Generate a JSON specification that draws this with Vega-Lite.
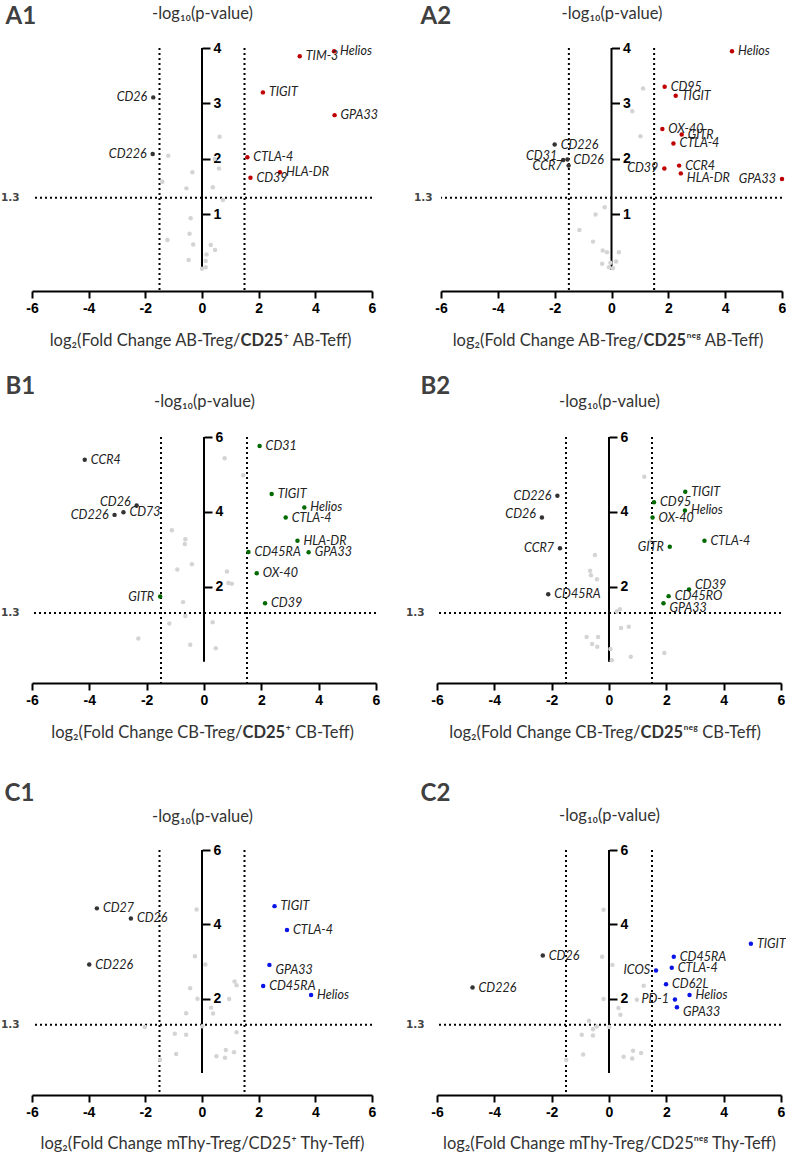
{
"$schema": "https://vega.github.io/schema/vega-lite/v6.json",
"background": "white",
"autosize": {"type": "pad"},
"padding": {"left": 0, "top": 4, "right": 0, "bottom": 0},
"config": {"view": {"stroke": null}, "font": "Lato"},
"datasets": {
"A1": [
{"m":"","fc":0.62,"p":2.40,"g":"ns","s":""},{"m":"","fc":-1.19,"p":2.06,"g":"ns","s":""},{"m":"","fc":0.45,"p":2.0,"g":"ns","s":""},{"m":"","fc":0.6,"p":1.83,"g":"ns","s":""},{"m":"","fc":-0.34,"p":1.76,"g":"ns","s":""},{"m":"","fc":-1.4,"p":1.59,"g":"ns","s":""},{"m":"","fc":-0.55,"p":1.47,"g":"ns","s":""},{"m":"","fc":0.38,"p":1.49,"g":"ns","s":""},{"m":"","fc":0.74,"p":1.26,"g":"ns","s":""},{"m":"","fc":-0.4,"p":0.93,"g":"ns","s":""},{"m":"","fc":-0.44,"p":0.65,"g":"ns","s":""},{"m":"","fc":-1.22,"p":0.54,"g":"ns","s":""},{"m":"","fc":-0.31,"p":0.46,"g":"ns","s":""},{"m":"","fc":0.31,"p":0.45,"g":"ns","s":""},{"m":"","fc":0.46,"p":0.36,"g":"ns","s":""},{"m":"","fc":0.16,"p":0.28,"g":"ns","s":""},{"m":"","fc":-0.47,"p":0.18,"g":"ns","s":""},{"m":"","fc":0.13,"p":0.16,"g":"ns","s":""},{"m":"","fc":0.0,"p":0.02,"g":"ns","s":""},{"m":"","fc":0.13,"p":0.05,"g":"ns","s":""},
{"m":"CD26","fc":-1.72,"p":3.11,"g":"down","s":"l"},{"m":"CD226","fc":-1.74,"p":2.09,"g":"down","s":"l"},
{"m":"Helios","fc":4.66,"p":3.94,"g":"up","s":"r"},{"m":"TIM-3","fc":3.45,"p":3.85,"g":"up","s":"r"},{"m":"TIGIT","fc":2.15,"p":3.2,"g":"up","s":"r"},{"m":"GPA33","fc":4.68,"p":2.79,"g":"up","s":"r"},{"m":"CTLA-4","fc":1.6,"p":2.03,"g":"up","s":"r"},{"m":"HLA-DR","fc":2.75,"p":1.76,"g":"up","s":"r"},{"m":"CD39","fc":1.71,"p":1.66,"g":"up","s":"r"}
],
"A2": [
{"m":"","fc":1.11,"p":3.27,"g":"ns","s":""},{"m":"","fc":0.73,"p":2.86,"g":"ns","s":""},{"m":"","fc":1.02,"p":2.41,"g":"ns","s":""},{"m":"","fc":-0.24,"p":1.13,"g":"ns","s":""},{"m":"","fc":-0.56,"p":1.0,"g":"ns","s":""},{"m":"","fc":-1.13,"p":0.72,"g":"ns","s":""},{"m":"","fc":-0.65,"p":0.51,"g":"ns","s":""},{"m":"","fc":-0.31,"p":0.35,"g":"ns","s":""},{"m":"","fc":-0.16,"p":0.32,"g":"ns","s":""},{"m":"","fc":0.26,"p":0.32,"g":"ns","s":""},{"m":"","fc":-0.33,"p":0.11,"g":"ns","s":""},{"m":"","fc":-0.04,"p":0.13,"g":"ns","s":""},{"m":"","fc":0.16,"p":0.15,"g":"ns","s":""},{"m":"","fc":-0.09,"p":0.05,"g":"ns","s":""},{"m":"","fc":0.05,"p":0.03,"g":"ns","s":""},
{"m":"CD226","fc":-2.0,"p":2.26,"g":"down","s":"r"},{"m":"CD31","fc":-1.7,"p":1.98,"g":"down","s":"lu"},{"m":"CD26","fc":-1.55,"p":1.99,"g":"down","s":"r"},{"m":"CCR7","fc":-1.51,"p":1.88,"g":"down","s":"l"},
{"m":"Helios","fc":4.24,"p":3.94,"g":"up","s":"r"},{"m":"CD95","fc":1.87,"p":3.30,"g":"up","s":"r"},{"m":"TIGIT","fc":2.26,"p":3.14,"g":"up","s":"r"},{"m":"OX-40","fc":1.79,"p":2.54,"g":"up","s":"r"},{"m":"GITR","fc":2.47,"p":2.44,"g":"up","s":"r"},{"m":"CTLA-4","fc":2.18,"p":2.28,"g":"up","s":"r"},{"m":"CCR4","fc":2.38,"p":1.88,"g":"up","s":"r"},{"m":"CD39","fc":1.86,"p":1.83,"g":"up","s":"l"},{"m":"HLA-DR","fc":2.44,"p":1.74,"g":"up","s":"rd"},{"m":"GPA33","fc":6.0,"p":1.64,"g":"up","s":"l"}
],
"B1": [
{"m":"","fc":0.72,"p":5.43,"g":"ns","s":""},{"m":"","fc":1.37,"p":4.98,"g":"ns","s":""},{"m":"","fc":-1.12,"p":3.51,"g":"ns","s":""},{"m":"","fc":-0.65,"p":3.27,"g":"ns","s":""},{"m":"","fc":-0.67,"p":3.14,"g":"ns","s":""},{"m":"","fc":-0.42,"p":2.6,"g":"ns","s":""},{"m":"","fc":-0.93,"p":2.46,"g":"ns","s":""},{"m":"","fc":0.8,"p":2.41,"g":"ns","s":""},{"m":"","fc":0.85,"p":2.1,"g":"ns","s":""},{"m":"","fc":0.97,"p":2.08,"g":"ns","s":""},{"m":"","fc":-0.73,"p":1.59,"g":"ns","s":""},{"m":"","fc":-0.65,"p":1.22,"g":"ns","s":""},{"m":"","fc":-1.21,"p":1.02,"g":"ns","s":""},{"m":"","fc":0.3,"p":1.05,"g":"ns","s":""},{"m":"","fc":-2.29,"p":0.62,"g":"ns","s":""},{"m":"","fc":-0.48,"p":0.45,"g":"ns","s":""},{"m":"","fc":0.41,"p":0.36,"g":"ns","s":""},
{"m":"CCR4","fc":-4.16,"p":5.39,"g":"down","s":"r"},{"m":"CD26","fc":-2.35,"p":4.17,"g":"down","s":"lu"},{"m":"CD73","fc":-2.81,"p":3.99,"g":"down","s":"r"},{"m":"CD226","fc":-3.12,"p":3.92,"g":"down","s":"l"},
{"m":"CD31","fc":1.94,"p":5.76,"g":"up","s":"r"},{"m":"TIGIT","fc":2.36,"p":4.48,"g":"up","s":"r"},{"m":"Helios","fc":3.5,"p":4.12,"g":"up","s":"r"},{"m":"CTLA-4","fc":2.85,"p":3.85,"g":"up","s":"r"},{"m":"HLA-DR","fc":3.26,"p":3.23,"g":"up","s":"r"},{"m":"CD45RA","fc":1.55,"p":2.93,"g":"up","s":"r"},{"m":"GPA33","fc":3.65,"p":2.92,"g":"up","s":"r"},{"m":"OX-40","fc":1.84,"p":2.36,"g":"up","s":"r"},{"m":"CD39","fc":2.13,"p":1.56,"g":"up","s":"r"},{"m":"GITR","fc":-1.53,"p":1.74,"g":"up","s":"l"}
],
"B2": [
{"m":"","fc":1.23,"p":4.94,"g":"ns","s":""},{"m":"","fc":1.44,"p":3.22,"g":"ns","s":""},{"m":"","fc":-0.49,"p":2.85,"g":"ns","s":""},{"m":"","fc":-0.66,"p":2.43,"g":"ns","s":""},{"m":"","fc":-0.63,"p":2.31,"g":"ns","s":""},{"m":"","fc":-0.42,"p":2.2,"g":"ns","s":""},{"m":"","fc":0.38,"p":1.4,"g":"ns","s":""},{"m":"","fc":0.27,"p":1.34,"g":"ns","s":""},{"m":"","fc":0.69,"p":0.93,"g":"ns","s":""},{"m":"","fc":0.42,"p":0.9,"g":"ns","s":""},{"m":"","fc":-0.78,"p":0.66,"g":"ns","s":""},{"m":"","fc":-0.38,"p":0.66,"g":"ns","s":""},{"m":"","fc":-0.59,"p":0.47,"g":"ns","s":""},{"m":"","fc":-0.41,"p":0.4,"g":"ns","s":""},{"m":"","fc":0.05,"p":0.34,"g":"ns","s":""},{"m":"","fc":0.1,"p":0.04,"g":"ns","s":""},{"m":"","fc":0.76,"p":0.13,"g":"ns","s":""},{"m":"","fc":1.93,"p":0.23,"g":"ns","s":""},
{"m":"CD226","fc":-1.8,"p":4.43,"g":"down","s":"l"},{"m":"CD26","fc":-2.34,"p":3.85,"g":"down","s":"lu"},{"m":"CCR7","fc":-1.71,"p":3.03,"g":"down","s":"l"},{"m":"CD45RA","fc":-2.12,"p":1.8,"g":"down","s":"r"},
{"m":"TIGIT","fc":2.66,"p":4.54,"g":"up","s":"r"},{"m":"CD95","fc":1.57,"p":4.26,"g":"up","s":"r"},{"m":"Helios","fc":2.65,"p":4.04,"g":"up","s":"r"},{"m":"OX-40","fc":1.52,"p":3.85,"g":"up","s":"r"},{"m":"CTLA-4","fc":3.33,"p":3.23,"g":"up","s":"r"},{"m":"GITR","fc":2.12,"p":3.07,"g":"up","s":"l"},{"m":"CD39","fc":2.79,"p":1.93,"g":"up","s":"ru"},{"m":"CD45RO","fc":2.08,"p":1.75,"g":"up","s":"r"},{"m":"GPA33","fc":1.9,"p":1.56,"g":"up","s":"rd"}
],
"C1": [
{"m":"","fc":-0.19,"p":4.4,"g":"ns","s":""},{"m":"","fc":-0.25,"p":3.14,"g":"ns","s":""},{"m":"","fc":0.12,"p":2.92,"g":"ns","s":""},{"m":"","fc":1.15,"p":2.46,"g":"ns","s":""},{"m":"","fc":1.22,"p":2.36,"g":"ns","s":""},{"m":"","fc":-0.42,"p":2.28,"g":"ns","s":""},{"m":"","fc":-0.16,"p":2.0,"g":"ns","s":""},{"m":"","fc":0.96,"p":1.99,"g":"ns","s":""},{"m":"","fc":0.32,"p":1.76,"g":"ns","s":""},{"m":"","fc":0.39,"p":1.6,"g":"ns","s":""},{"m":"","fc":-0.56,"p":1.61,"g":"ns","s":""},{"m":"","fc":0.01,"p":1.26,"g":"ns","s":""},{"m":"","fc":-2.02,"p":1.24,"g":"ns","s":""},{"m":"","fc":1.22,"p":1.1,"g":"ns","s":""},{"m":"","fc":-0.96,"p":1.06,"g":"ns","s":""},{"m":"","fc":-0.56,"p":1.03,"g":"ns","s":""},{"m":"","fc":-0.91,"p":0.51,"g":"ns","s":""},{"m":"","fc":0.84,"p":0.62,"g":"ns","s":""},{"m":"","fc":1.13,"p":0.56,"g":"ns","s":""},{"m":"","fc":0.51,"p":0.45,"g":"ns","s":""},{"m":"","fc":0.81,"p":0.41,"g":"ns","s":""},{"m":"","fc":-1.48,"p":0.36,"g":"ns","s":""},
{"m":"CD27","fc":-3.71,"p":4.43,"g":"down","s":"r"},{"m":"CD26","fc":-2.51,"p":4.16,"g":"down","s":"r"},{"m":"CD226","fc":-3.98,"p":2.92,"g":"down","s":"r"},
{"m":"TIGIT","fc":2.56,"p":4.49,"g":"up","s":"r"},{"m":"CTLA-4","fc":3.0,"p":3.85,"g":"up","s":"r"},{"m":"GPA33","fc":2.38,"p":2.91,"g":"up","s":"rd"},{"m":"CD45RA","fc":2.16,"p":2.34,"g":"up","s":"r"},{"m":"Helios","fc":3.85,"p":2.1,"g":"up","s":"r"}
],
"C2": [
{"m":"","fc":-0.19,"p":4.39,"g":"ns","s":""},{"m":"","fc":-0.24,"p":3.13,"g":"ns","s":""},{"m":"","fc":0.12,"p":2.91,"g":"ns","s":""},{"m":"","fc":1.21,"p":2.35,"g":"ns","s":""},{"m":"","fc":-0.19,"p":1.99,"g":"ns","s":""},{"m":"","fc":0.97,"p":1.97,"g":"ns","s":""},{"m":"","fc":0.33,"p":1.75,"g":"ns","s":""},{"m":"","fc":0.4,"p":1.57,"g":"ns","s":""},{"m":"","fc":-0.7,"p":1.41,"g":"ns","s":""},{"m":"","fc":-0.43,"p":1.25,"g":"ns","s":""},{"m":"","fc":-0.56,"p":1.18,"g":"ns","s":""},{"m":"","fc":0.01,"p":1.24,"g":"ns","s":""},{"m":"","fc":-0.95,"p":1.03,"g":"ns","s":""},{"m":"","fc":-0.56,"p":1.01,"g":"ns","s":""},{"m":"","fc":-0.9,"p":0.5,"g":"ns","s":""},{"m":"","fc":0.84,"p":0.6,"g":"ns","s":""},{"m":"","fc":1.12,"p":0.54,"g":"ns","s":""},{"m":"","fc":0.51,"p":0.44,"g":"ns","s":""},{"m":"","fc":0.81,"p":0.39,"g":"ns","s":""},{"m":"","fc":-1.49,"p":0.35,"g":"ns","s":""},
{"m":"CD26","fc":-2.31,"p":3.16,"g":"down","s":"r"},{"m":"CD226","fc":-4.76,"p":2.3,"g":"down","s":"r"},
{"m":"TIGIT","fc":4.95,"p":3.48,"g":"up","s":"r"},{"m":"CD45RA","fc":2.26,"p":3.13,"g":"up","s":"r"},{"m":"CTLA-4","fc":2.19,"p":2.83,"g":"up","s":"r"},{"m":"ICOS","fc":1.64,"p":2.76,"g":"up","s":"l"},{"m":"CD62L","fc":1.99,"p":2.39,"g":"up","s":"r"},{"m":"Helios","fc":2.81,"p":2.1,"g":"up","s":"r"},{"m":"PD-1","fc":2.3,"p":1.98,"g":"up","s":"l"},{"m":"GPA33","fc":2.37,"p":1.77,"g":"up","s":"rd"}
]
},
"vconcat": [
{"vconcat": [
{"hconcat": [
{"width": 340, "height": 243, "data": {"name": "A1"}, "resolve": {"axis": {"x": "independent", "y": "independent"}},
 "layer": [
  {"data": {"values": [{"t": 1.3}]}, "mark": {"type": "rule", "strokeDash": [2, 3], "strokeWidth": 2, "color": "#000"},
   "encoding": {"y": {"field": "t", "type": "quantitative", "scale": {"domain": [-0.38, 4], "nice": false, "zero": false},
     "axis": {"orient": "left", "values": [1.3], "format": ".1f", "domain": false, "ticks": false, "grid": false, "labelPadding": 13, "labelFont": "DejaVu Sans", "labelFontWeight": "bold", "labelFontSize": 10.5, "labelColor": "#444", "title": "A1", "titleAngle": 0, "titleX": -27, "titleY": -25, "titleAlign": "left", "titleBaseline": "alphabetic", "titleFont": "Lato", "titleFontSize": 24, "titleFontWeight": "bold", "titleColor": "#404040"}}}},
  {"data": {"values": [{"t": -1.5}, {"t": 1.5}]}, "mark": {"type": "rule", "strokeDash": [2, 3], "strokeWidth": 2, "color": "#000"},
   "encoding": {"x": {"field": "t", "type": "quantitative", "scale": {"domain": [-6, 6], "nice": false, "zero": false},
     "axis": {"orient": "bottom", "domain": false, "ticks": false, "labels": false, "grid": false, "title": "CD25", "titleFont": "Lato", "titleFontSize": 16.5, "titleFontWeight": "bold", "titleColor": "#333", "titleX": 208, "titleY": 54, "titleAlign": "left", "titleBaseline": "alphabetic"}}}},
  {"data": {"values": [{"x0": 0, "a": 0, "b": 4}]}, "mark": {"type": "rule", "strokeWidth": 2, "color": "#000"},
   "encoding": {"x": {"field": "x0", "type": "quantitative", "scale": {"domain": [-6, 6], "nice": false, "zero": false},
     "axis": {"orient": "bottom", "domain": false, "ticks": false, "labels": false, "grid": false, "title": "⁺ AB-Teff)", "titleFont": "Lato", "titleFontSize": 16.5, "titleFontWeight": "normal", "titleColor": "#333", "titleX": 251, "titleY": 54, "titleAlign": "left", "titleBaseline": "alphabetic"}},
    "y": {"field": "a", "type": "quantitative", "scale": {"domain": [-0.38, 4], "nice": false, "zero": false}, "axis": null}, "y2": {"field": "b"}}},
  {"mark": {"type": "circle", "size": 20, "opacity": 1},
   "encoding": {
    "x": {"field": "fc", "type": "quantitative", "scale": {"domain": [-6, 6], "nice": false, "zero": false},
     "axis": {"orient": "bottom", "values": [-6, -4, -2, 0, 2, 4, 6], "grid": false, "domainColor": "#000", "domainWidth": 2, "tickColor": "#000", "tickWidth": 2, "tickSize": 7, "labelFlush": false, "labelFont": "Liberation Sans", "labelFontWeight": "bold", "labelFontSize": 14, "labelColor": "#000", "labelPadding": 3, "labelExpr": "toString(datum.value)", "title": "log₂(Fold Change AB-Treg/", "titleFont": "Lato", "titleFontSize": 16.5, "titleFontWeight": "normal", "titleColor": "#333", "titleX": 208, "titleY": 54, "titleAlign": "right", "titleBaseline": "alphabetic"}},
    "y": {"field": "p", "type": "quantitative", "scale": {"domain": [-0.38, 4], "nice": false, "zero": false},
     "axis": {"orient": "right", "offset": -170, "values": [1, 2, 3, 4], "format": "d", "grid": false, "domain": false, "tickColor": "#000", "tickWidth": 2, "tickSize": 8, "labelFont": "Liberation Sans", "labelFontWeight": "bold", "labelFontSize": 14, "labelColor": "#000", "labelPadding": 3, "title": "-log₁₀(p-value)", "titleAngle": 0, "titleX": 0, "titleY": -30, "titleAlign": "center", "titleBaseline": "alphabetic", "titleFont": "Lato", "titleFontSize": 16.5, "titleFontWeight": "normal", "titleColor": "#333"}},
    "color": {"field": "g", "type": "nominal", "scale": {"domain": ["ns", "down", "up"], "range": ["#d4d4d4", "#333333", "#c00000"]}, "legend": null}}},
  {"transform": [{"filter": "datum.s === 'r'"}], "mark": {"type": "text", "align": "left", "baseline": "middle", "dx": 6, "dy": 0, "font": "Lato", "fontStyle": "italic", "fontSize": 12.5, "color": "#222"},
   "encoding": {"x": {"field": "fc", "type": "quantitative", "scale": {"domain": [-6, 6], "nice": false, "zero": false}, "axis": null}, "y": {"field": "p", "type": "quantitative", "scale": {"domain": [-0.38, 4], "nice": false, "zero": false}, "axis": null}, "text": {"field": "m"}}},
  {"transform": [{"filter": "datum.s === 'l'"}], "mark": {"type": "text", "align": "right", "baseline": "middle", "dx": -6, "dy": 0, "font": "Lato", "fontStyle": "italic", "fontSize": 12.5, "color": "#222"},
   "encoding": {"x": {"field": "fc", "type": "quantitative", "scale": {"domain": [-6, 6], "nice": false, "zero": false}, "axis": null}, "y": {"field": "p", "type": "quantitative", "scale": {"domain": [-0.38, 4], "nice": false, "zero": false}, "axis": null}, "text": {"field": "m"}}}
 ]},
{"width": 341, "height": 243, "data": {"name": "A2"}, "resolve": {"axis": {"x": "independent", "y": "independent"}},
 "layer": [
  {"data": {"values": [{"t": 1.3}]}, "mark": {"type": "rule", "strokeDash": [2, 3], "strokeWidth": 2, "color": "#000"},
   "encoding": {"y": {"field": "t", "type": "quantitative", "scale": {"domain": [-0.38, 4], "nice": false, "zero": false},
     "axis": {"orient": "left", "values": [1.3], "format": ".1f", "domain": false, "ticks": false, "grid": false, "labelPadding": 9, "labelFont": "DejaVu Sans", "labelFontWeight": "bold", "labelFontSize": 10.5, "labelColor": "#444", "title": "A2", "titleAngle": 0, "titleX": -21, "titleY": -25, "titleAlign": "left", "titleBaseline": "alphabetic", "titleFont": "Lato", "titleFontSize": 24, "titleFontWeight": "bold", "titleColor": "#404040"}}}},
  {"data": {"values": [{"t": -1.5}, {"t": 1.5}]}, "mark": {"type": "rule", "strokeDash": [2, 3], "strokeWidth": 2, "color": "#000"},
   "encoding": {"x": {"field": "t", "type": "quantitative", "scale": {"domain": [-6, 6], "nice": false, "zero": false},
     "axis": {"orient": "bottom", "domain": false, "ticks": false, "labels": false, "grid": false, "title": "CD25", "titleFont": "Lato", "titleFontSize": 16.5, "titleFontWeight": "bold", "titleColor": "#333", "titleX": 202, "titleY": 54, "titleAlign": "left", "titleBaseline": "alphabetic"}}}},
  {"data": {"values": [{"x0": 0, "a": 0, "b": 4}]}, "mark": {"type": "rule", "strokeWidth": 2, "color": "#000"},
   "encoding": {"x": {"field": "x0", "type": "quantitative", "scale": {"domain": [-6, 6], "nice": false, "zero": false},
     "axis": {"orient": "bottom", "domain": false, "ticks": false, "labels": false, "grid": false, "title": "ⁿᵉᵍ AB-Teff)", "titleFont": "Lato", "titleFontSize": 16.5, "titleFontWeight": "normal", "titleColor": "#333", "titleX": 245, "titleY": 54, "titleAlign": "left", "titleBaseline": "alphabetic"}},
    "y": {"field": "a", "type": "quantitative", "scale": {"domain": [-0.38, 4], "nice": false, "zero": false}, "axis": null}, "y2": {"field": "b"}}},
  {"mark": {"type": "circle", "size": 20, "opacity": 1},
   "encoding": {
    "x": {"field": "fc", "type": "quantitative", "scale": {"domain": [-6, 6], "nice": false, "zero": false},
     "axis": {"orient": "bottom", "values": [-6, -4, -2, 0, 2, 4, 6], "grid": false, "domainColor": "#000", "domainWidth": 2, "tickColor": "#000", "tickWidth": 2, "tickSize": 7, "labelFlush": false, "labelFont": "Liberation Sans", "labelFontWeight": "bold", "labelFontSize": 14, "labelColor": "#000", "labelPadding": 3, "labelExpr": "toString(datum.value)", "title": "log₂(Fold Change AB-Treg/", "titleFont": "Lato", "titleFontSize": 16.5, "titleFontWeight": "normal", "titleColor": "#333", "titleX": 202, "titleY": 54, "titleAlign": "right", "titleBaseline": "alphabetic"}},
    "y": {"field": "p", "type": "quantitative", "scale": {"domain": [-0.38, 4], "nice": false, "zero": false},
     "axis": {"orient": "right", "offset": -170.5, "values": [1, 2, 3, 4], "format": "d", "grid": false, "domain": false, "tickColor": "#000", "tickWidth": 2, "tickSize": 8, "labelFont": "Liberation Sans", "labelFontWeight": "bold", "labelFontSize": 14, "labelColor": "#000", "labelPadding": 3, "title": "-log₁₀(p-value)", "titleAngle": 0, "titleX": 0, "titleY": -30, "titleAlign": "center", "titleBaseline": "alphabetic", "titleFont": "Lato", "titleFontSize": 16.5, "titleFontWeight": "normal", "titleColor": "#333"}},
    "color": {"field": "g", "type": "nominal", "scale": {"domain": ["ns", "down", "up"], "range": ["#d4d4d4", "#333333", "#c00000"]}, "legend": null}}},
  {"transform": [{"filter": "datum.s === 'r'"}], "mark": {"type": "text", "align": "left", "baseline": "middle", "dx": 6, "dy": 0, "font": "Lato", "fontStyle": "italic", "fontSize": 12.5, "color": "#222"},
   "encoding": {"x": {"field": "fc", "type": "quantitative", "scale": {"domain": [-6, 6], "nice": false, "zero": false}, "axis": null}, "y": {"field": "p", "type": "quantitative", "scale": {"domain": [-0.38, 4], "nice": false, "zero": false}, "axis": null}, "text": {"field": "m"}}},
  {"transform": [{"filter": "datum.s === 'rd'"}], "mark": {"type": "text", "align": "left", "baseline": "middle", "dx": 6, "dy": 5, "font": "Lato", "fontStyle": "italic", "fontSize": 12.5, "color": "#222"},
   "encoding": {"x": {"field": "fc", "type": "quantitative", "scale": {"domain": [-6, 6], "nice": false, "zero": false}, "axis": null}, "y": {"field": "p", "type": "quantitative", "scale": {"domain": [-0.38, 4], "nice": false, "zero": false}, "axis": null}, "text": {"field": "m"}}},
  {"transform": [{"filter": "datum.s === 'l'"}], "mark": {"type": "text", "align": "right", "baseline": "middle", "dx": -6, "dy": 0, "font": "Lato", "fontStyle": "italic", "fontSize": 12.5, "color": "#222"},
   "encoding": {"x": {"field": "fc", "type": "quantitative", "scale": {"domain": [-6, 6], "nice": false, "zero": false}, "axis": null}, "y": {"field": "p", "type": "quantitative", "scale": {"domain": [-0.38, 4], "nice": false, "zero": false}, "axis": null}, "text": {"field": "m"}}},
  {"transform": [{"filter": "datum.s === 'lu'"}], "mark": {"type": "text", "align": "right", "baseline": "middle", "dx": -6, "dy": -4, "font": "Lato", "fontStyle": "italic", "fontSize": 12.5, "color": "#222"},
   "encoding": {"x": {"field": "fc", "type": "quantitative", "scale": {"domain": [-6, 6], "nice": false, "zero": false}, "axis": null}, "y": {"field": "p", "type": "quantitative", "scale": {"domain": [-0.38, 4], "nice": false, "zero": false}, "axis": null}, "text": {"field": "m"}}}
 ]}
], "spacing": 69, "bounds": "flush", "resolve": {"scale": {"color": "independent"}}},
{"hconcat": [
{"width": 344, "height": 246, "data": {"name": "B1"}, "resolve": {"axis": {"x": "independent", "y": "independent"}},
 "layer": [
  {"data": {"values": [{"t": 1.3}]}, "mark": {"type": "rule", "strokeDash": [2, 3], "strokeWidth": 2, "color": "#000"},
   "encoding": {"y": {"field": "t", "type": "quantitative", "scale": {"domain": [-0.57, 6], "nice": false, "zero": false},
     "axis": {"orient": "left", "values": [1.3], "format": ".1f", "domain": false, "ticks": false, "grid": false, "labelPadding": 13, "labelFont": "DejaVu Sans", "labelFontWeight": "bold", "labelFontSize": 10.5, "labelColor": "#444", "title": "B1", "titleAngle": 0, "titleX": -27, "titleY": -44, "titleAlign": "left", "titleBaseline": "alphabetic", "titleFont": "Lato", "titleFontSize": 24, "titleFontWeight": "bold", "titleColor": "#404040"}}}},
  {"data": {"values": [{"t": -1.5}, {"t": 1.5}]}, "mark": {"type": "rule", "strokeDash": [2, 3], "strokeWidth": 2, "color": "#000"},
   "encoding": {"x": {"field": "t", "type": "quantitative", "scale": {"domain": [-6, 6], "nice": false, "zero": false},
     "axis": {"orient": "bottom", "domain": false, "ticks": false, "labels": false, "grid": false, "title": "CD25", "titleFont": "Lato", "titleFontSize": 16.5, "titleFontWeight": "bold", "titleColor": "#333", "titleX": 210, "titleY": 54, "titleAlign": "left", "titleBaseline": "alphabetic"}}}},
  {"data": {"values": [{"x0": 0, "a": 0, "b": 6}]}, "mark": {"type": "rule", "strokeWidth": 2, "color": "#000"},
   "encoding": {"x": {"field": "x0", "type": "quantitative", "scale": {"domain": [-6, 6], "nice": false, "zero": false},
     "axis": {"orient": "bottom", "domain": false, "ticks": false, "labels": false, "grid": false, "title": "⁺ CB-Teff)", "titleFont": "Lato", "titleFontSize": 16.5, "titleFontWeight": "normal", "titleColor": "#333", "titleX": 253, "titleY": 54, "titleAlign": "left", "titleBaseline": "alphabetic"}},
    "y": {"field": "a", "type": "quantitative", "scale": {"domain": [-0.57, 6], "nice": false, "zero": false}, "axis": null}, "y2": {"field": "b"}}},
  {"mark": {"type": "circle", "size": 20, "opacity": 1},
   "encoding": {
    "x": {"field": "fc", "type": "quantitative", "scale": {"domain": [-6, 6], "nice": false, "zero": false},
     "axis": {"orient": "bottom", "values": [-6, -4, -2, 0, 2, 4, 6], "grid": false, "domainColor": "#000", "domainWidth": 2, "tickColor": "#000", "tickWidth": 2, "tickSize": 7, "labelFlush": false, "labelFont": "Liberation Sans", "labelFontWeight": "bold", "labelFontSize": 14, "labelColor": "#000", "labelPadding": 3, "labelExpr": "toString(datum.value)", "title": "log₂(Fold Change CB-Treg/", "titleFont": "Lato", "titleFontSize": 16.5, "titleFontWeight": "normal", "titleColor": "#333", "titleX": 210, "titleY": 54, "titleAlign": "right", "titleBaseline": "alphabetic"}},
    "y": {"field": "p", "type": "quantitative", "scale": {"domain": [-0.57, 6], "nice": false, "zero": false},
     "axis": {"orient": "right", "offset": -172, "values": [2, 4, 6], "format": "d", "grid": false, "domain": false, "tickColor": "#000", "tickWidth": 2, "tickSize": 8, "labelFont": "Liberation Sans", "labelFontWeight": "bold", "labelFontSize": 14, "labelColor": "#000", "labelPadding": 3, "title": "-log₁₀(p-value)", "titleAngle": 0, "titleX": 0, "titleY": -31, "titleAlign": "center", "titleBaseline": "alphabetic", "titleFont": "Lato", "titleFontSize": 16.5, "titleFontWeight": "normal", "titleColor": "#333"}},
    "color": {"field": "g", "type": "nominal", "scale": {"domain": ["ns", "down", "up"], "range": ["#d4d4d4", "#333333", "#006a00"]}, "legend": null}}},
  {"transform": [{"filter": "datum.s === 'r'"}], "mark": {"type": "text", "align": "left", "baseline": "middle", "dx": 6, "dy": 0, "font": "Lato", "fontStyle": "italic", "fontSize": 12.5, "color": "#222"},
   "encoding": {"x": {"field": "fc", "type": "quantitative", "scale": {"domain": [-6, 6], "nice": false, "zero": false}, "axis": null}, "y": {"field": "p", "type": "quantitative", "scale": {"domain": [-0.57, 6], "nice": false, "zero": false}, "axis": null}, "text": {"field": "m"}}},
  {"transform": [{"filter": "datum.s === 'l'"}], "mark": {"type": "text", "align": "right", "baseline": "middle", "dx": -6, "dy": 0, "font": "Lato", "fontStyle": "italic", "fontSize": 12.5, "color": "#222"},
   "encoding": {"x": {"field": "fc", "type": "quantitative", "scale": {"domain": [-6, 6], "nice": false, "zero": false}, "axis": null}, "y": {"field": "p", "type": "quantitative", "scale": {"domain": [-0.57, 6], "nice": false, "zero": false}, "axis": null}, "text": {"field": "m"}}},
  {"transform": [{"filter": "datum.s === 'lu'"}], "mark": {"type": "text", "align": "right", "baseline": "middle", "dx": -6, "dy": -4, "font": "Lato", "fontStyle": "italic", "fontSize": 12.5, "color": "#222"},
   "encoding": {"x": {"field": "fc", "type": "quantitative", "scale": {"domain": [-6, 6], "nice": false, "zero": false}, "axis": null}, "y": {"field": "p", "type": "quantitative", "scale": {"domain": [-0.57, 6], "nice": false, "zero": false}, "axis": null}, "text": {"field": "m"}}}
 ]},
{"width": 344, "height": 246, "data": {"name": "B2"}, "resolve": {"axis": {"x": "independent", "y": "independent"}},
 "layer": [
  {"data": {"values": [{"t": 1.3}]}, "mark": {"type": "rule", "strokeDash": [2, 3], "strokeWidth": 2, "color": "#000"},
   "encoding": {"y": {"field": "t", "type": "quantitative", "scale": {"domain": [-0.57, 6], "nice": false, "zero": false},
     "axis": {"orient": "left", "values": [1.3], "format": ".1f", "domain": false, "ticks": false, "grid": false, "labelPadding": 13, "labelFont": "DejaVu Sans", "labelFontWeight": "bold", "labelFontSize": 10.5, "labelColor": "#444", "title": "B2", "titleAngle": 0, "titleX": -17, "titleY": -44, "titleAlign": "left", "titleBaseline": "alphabetic", "titleFont": "Lato", "titleFontSize": 24, "titleFontWeight": "bold", "titleColor": "#404040"}}}},
  {"data": {"values": [{"t": -1.5}, {"t": 1.5}]}, "mark": {"type": "rule", "strokeDash": [2, 3], "strokeWidth": 2, "color": "#000"},
   "encoding": {"x": {"field": "t", "type": "quantitative", "scale": {"domain": [-6, 6], "nice": false, "zero": false},
     "axis": {"orient": "bottom", "domain": false, "ticks": false, "labels": false, "grid": false, "title": "CD25", "titleFont": "Lato", "titleFontSize": 16.5, "titleFontWeight": "bold", "titleColor": "#333", "titleX": 203, "titleY": 54, "titleAlign": "left", "titleBaseline": "alphabetic"}}}},
  {"data": {"values": [{"x0": 0, "a": 0, "b": 6}]}, "mark": {"type": "rule", "strokeWidth": 2, "color": "#000"},
   "encoding": {"x": {"field": "x0", "type": "quantitative", "scale": {"domain": [-6, 6], "nice": false, "zero": false},
     "axis": {"orient": "bottom", "domain": false, "ticks": false, "labels": false, "grid": false, "title": "ⁿᵉᵍ CB-Teff)", "titleFont": "Lato", "titleFontSize": 16.5, "titleFontWeight": "normal", "titleColor": "#333", "titleX": 246, "titleY": 54, "titleAlign": "left", "titleBaseline": "alphabetic"}},
    "y": {"field": "a", "type": "quantitative", "scale": {"domain": [-0.57, 6], "nice": false, "zero": false}, "axis": null}, "y2": {"field": "b"}}},
  {"mark": {"type": "circle", "size": 20, "opacity": 1},
   "encoding": {
    "x": {"field": "fc", "type": "quantitative", "scale": {"domain": [-6, 6], "nice": false, "zero": false},
     "axis": {"orient": "bottom", "values": [-6, -4, -2, 0, 2, 4, 6], "grid": false, "domainColor": "#000", "domainWidth": 2, "tickColor": "#000", "tickWidth": 2, "tickSize": 7, "labelFlush": false, "labelFont": "Liberation Sans", "labelFontWeight": "bold", "labelFontSize": 14, "labelColor": "#000", "labelPadding": 3, "labelExpr": "toString(datum.value)", "title": "log₂(Fold Change CB-Treg/", "titleFont": "Lato", "titleFontSize": 16.5, "titleFontWeight": "normal", "titleColor": "#333", "titleX": 203, "titleY": 54, "titleAlign": "right", "titleBaseline": "alphabetic"}},
    "y": {"field": "p", "type": "quantitative", "scale": {"domain": [-0.57, 6], "nice": false, "zero": false},
     "axis": {"orient": "right", "offset": -172, "values": [2, 4, 6], "format": "d", "grid": false, "domain": false, "tickColor": "#000", "tickWidth": 2, "tickSize": 8, "labelFont": "Liberation Sans", "labelFontWeight": "bold", "labelFontSize": 14, "labelColor": "#000", "labelPadding": 3, "title": "-log₁₀(p-value)", "titleAngle": 0, "titleX": 0, "titleY": -31, "titleAlign": "center", "titleBaseline": "alphabetic", "titleFont": "Lato", "titleFontSize": 16.5, "titleFontWeight": "normal", "titleColor": "#333"}},
    "color": {"field": "g", "type": "nominal", "scale": {"domain": ["ns", "down", "up"], "range": ["#d4d4d4", "#333333", "#006a00"]}, "legend": null}}},
  {"transform": [{"filter": "datum.s === 'r'"}], "mark": {"type": "text", "align": "left", "baseline": "middle", "dx": 6, "dy": 0, "font": "Lato", "fontStyle": "italic", "fontSize": 12.5, "color": "#222"},
   "encoding": {"x": {"field": "fc", "type": "quantitative", "scale": {"domain": [-6, 6], "nice": false, "zero": false}, "axis": null}, "y": {"field": "p", "type": "quantitative", "scale": {"domain": [-0.57, 6], "nice": false, "zero": false}, "axis": null}, "text": {"field": "m"}}},
  {"transform": [{"filter": "datum.s === 'ru'"}], "mark": {"type": "text", "align": "left", "baseline": "middle", "dx": 6, "dy": -4, "font": "Lato", "fontStyle": "italic", "fontSize": 12.5, "color": "#222"},
   "encoding": {"x": {"field": "fc", "type": "quantitative", "scale": {"domain": [-6, 6], "nice": false, "zero": false}, "axis": null}, "y": {"field": "p", "type": "quantitative", "scale": {"domain": [-0.57, 6], "nice": false, "zero": false}, "axis": null}, "text": {"field": "m"}}},
  {"transform": [{"filter": "datum.s === 'rd'"}], "mark": {"type": "text", "align": "left", "baseline": "middle", "dx": 6, "dy": 5, "font": "Lato", "fontStyle": "italic", "fontSize": 12.5, "color": "#222"},
   "encoding": {"x": {"field": "fc", "type": "quantitative", "scale": {"domain": [-6, 6], "nice": false, "zero": false}, "axis": null}, "y": {"field": "p", "type": "quantitative", "scale": {"domain": [-0.57, 6], "nice": false, "zero": false}, "axis": null}, "text": {"field": "m"}}},
  {"transform": [{"filter": "datum.s === 'l'"}], "mark": {"type": "text", "align": "right", "baseline": "middle", "dx": -6, "dy": 0, "font": "Lato", "fontStyle": "italic", "fontSize": 12.5, "color": "#222"},
   "encoding": {"x": {"field": "fc", "type": "quantitative", "scale": {"domain": [-6, 6], "nice": false, "zero": false}, "axis": null}, "y": {"field": "p", "type": "quantitative", "scale": {"domain": [-0.57, 6], "nice": false, "zero": false}, "axis": null}, "text": {"field": "m"}}},
  {"transform": [{"filter": "datum.s === 'lu'"}], "mark": {"type": "text", "align": "right", "baseline": "middle", "dx": -6, "dy": -4, "font": "Lato", "fontStyle": "italic", "fontSize": 12.5, "color": "#222"},
   "encoding": {"x": {"field": "fc", "type": "quantitative", "scale": {"domain": [-6, 6], "nice": false, "zero": false}, "axis": null}, "y": {"field": "p", "type": "quantitative", "scale": {"domain": [-0.57, 6], "nice": false, "zero": false}, "axis": null}, "text": {"field": "m"}}}
 ]}
], "spacing": 61, "bounds": "flush", "resolve": {"scale": {"color": "independent"}}}
], "spacing": 25, "resolve": {"scale": {"color": "independent"}}},
{"hconcat": [
{"width": 340, "height": 245, "data": {"name": "C1"}, "resolve": {"axis": {"x": "independent", "y": "independent"}},
 "layer": [
  {"data": {"values": [{"t": 1.3}]}, "mark": {"type": "rule", "strokeDash": [2, 3], "strokeWidth": 2, "color": "#000"},
   "encoding": {"y": {"field": "t", "type": "quantitative", "scale": {"domain": [-0.59, 6], "nice": false, "zero": false},
     "axis": {"orient": "left", "values": [1.3], "format": ".1f", "domain": false, "ticks": false, "grid": false, "labelPadding": 13, "labelFont": "DejaVu Sans", "labelFontWeight": "bold", "labelFontSize": 10.5, "labelColor": "#444", "title": "C1", "titleAngle": 0, "titleX": -28, "titleY": -50, "titleAlign": "left", "titleBaseline": "alphabetic", "titleFont": "Lato", "titleFontSize": 24, "titleFontWeight": "bold", "titleColor": "#404040"}}}},
  {"data": {"values": [{"t": -1.5}, {"t": 1.5}]}, "mark": {"type": "rule", "strokeDash": [2, 3], "strokeWidth": 2, "color": "#000"},
   "encoding": {"x": {"field": "t", "type": "quantitative", "scale": {"domain": [-6, 6], "nice": false, "zero": false}, "axis": null}}},
  {"data": {"values": [{"x0": 0, "a": 0, "b": 6}]}, "mark": {"type": "rule", "strokeWidth": 2, "color": "#000"},
   "encoding": {"x": {"field": "x0", "type": "quantitative", "scale": {"domain": [-6, 6], "nice": false, "zero": false}, "axis": null}, "y": {"field": "a", "type": "quantitative", "scale": {"domain": [-0.59, 6], "nice": false, "zero": false}, "axis": null}, "y2": {"field": "b"}}},
  {"mark": {"type": "circle", "size": 20, "opacity": 1},
   "encoding": {
    "x": {"field": "fc", "type": "quantitative", "scale": {"domain": [-6, 6], "nice": false, "zero": false},
     "axis": {"orient": "bottom", "values": [-6, -4, -2, 0, 2, 4, 6], "grid": false, "domainColor": "#000", "domainWidth": 2, "tickColor": "#000", "tickWidth": 2, "tickSize": 7, "labelFlush": false, "labelFont": "Liberation Sans", "labelFontWeight": "bold", "labelFontSize": 14, "labelColor": "#000", "labelPadding": 3, "labelExpr": "toString(datum.value)", "title": "log₂(Fold Change mThy-Treg/CD25⁺ Thy-Teff)", "titleFont": "Lato", "titleFontSize": 16.5, "titleFontWeight": "normal", "titleColor": "#333", "titleX": 170, "titleY": 53, "titleAlign": "center", "titleBaseline": "alphabetic"}},
    "y": {"field": "p", "type": "quantitative", "scale": {"domain": [-0.59, 6], "nice": false, "zero": false},
     "axis": {"orient": "right", "offset": -170, "values": [2, 4, 6], "format": "d", "grid": false, "domain": false, "tickColor": "#000", "tickWidth": 2, "tickSize": 8, "labelFont": "Liberation Sans", "labelFontWeight": "bold", "labelFontSize": 14, "labelColor": "#000", "labelPadding": 3, "title": "-log₁₀(p-value)", "titleAngle": 0, "titleX": 0, "titleY": -29, "titleAlign": "center", "titleBaseline": "alphabetic", "titleFont": "Lato", "titleFontSize": 16.5, "titleFontWeight": "normal", "titleColor": "#333"}},
    "color": {"field": "g", "type": "nominal", "scale": {"domain": ["ns", "down", "up"], "range": ["#d4d4d4", "#333333", "#0a14e6"]}, "legend": null}}},
  {"transform": [{"filter": "datum.s === 'r'"}], "mark": {"type": "text", "align": "left", "baseline": "middle", "dx": 6, "dy": 0, "font": "Lato", "fontStyle": "italic", "fontSize": 12.5, "color": "#222"},
   "encoding": {"x": {"field": "fc", "type": "quantitative", "scale": {"domain": [-6, 6], "nice": false, "zero": false}, "axis": null}, "y": {"field": "p", "type": "quantitative", "scale": {"domain": [-0.59, 6], "nice": false, "zero": false}, "axis": null}, "text": {"field": "m"}}},
  {"transform": [{"filter": "datum.s === 'rd'"}], "mark": {"type": "text", "align": "left", "baseline": "middle", "dx": 6, "dy": 5, "font": "Lato", "fontStyle": "italic", "fontSize": 12.5, "color": "#222"},
   "encoding": {"x": {"field": "fc", "type": "quantitative", "scale": {"domain": [-6, 6], "nice": false, "zero": false}, "axis": null}, "y": {"field": "p", "type": "quantitative", "scale": {"domain": [-0.59, 6], "nice": false, "zero": false}, "axis": null}, "text": {"field": "m"}}}
 ]},
{"width": 344, "height": 245, "data": {"name": "C2"}, "resolve": {"axis": {"x": "independent", "y": "independent"}},
 "layer": [
  {"data": {"values": [{"t": 1.3}]}, "mark": {"type": "rule", "strokeDash": [2, 3], "strokeWidth": 2, "color": "#000"},
   "encoding": {"y": {"field": "t", "type": "quantitative", "scale": {"domain": [-0.59, 6], "nice": false, "zero": false},
     "axis": {"orient": "left", "values": [1.3], "format": ".1f", "domain": false, "ticks": false, "grid": false, "labelPadding": 13, "labelFont": "DejaVu Sans", "labelFontWeight": "bold", "labelFontSize": 10.5, "labelColor": "#444", "title": "C2", "titleAngle": 0, "titleX": -17, "titleY": -50, "titleAlign": "left", "titleBaseline": "alphabetic", "titleFont": "Lato", "titleFontSize": 24, "titleFontWeight": "bold", "titleColor": "#404040"}}}},
  {"data": {"values": [{"t": -1.5}, {"t": 1.5}]}, "mark": {"type": "rule", "strokeDash": [2, 3], "strokeWidth": 2, "color": "#000"},
   "encoding": {"x": {"field": "t", "type": "quantitative", "scale": {"domain": [-6, 6], "nice": false, "zero": false}, "axis": null}}},
  {"data": {"values": [{"x0": 0, "a": 0, "b": 6}]}, "mark": {"type": "rule", "strokeWidth": 2, "color": "#000"},
   "encoding": {"x": {"field": "x0", "type": "quantitative", "scale": {"domain": [-6, 6], "nice": false, "zero": false}, "axis": null}, "y": {"field": "a", "type": "quantitative", "scale": {"domain": [-0.59, 6], "nice": false, "zero": false}, "axis": null}, "y2": {"field": "b"}}},
  {"mark": {"type": "circle", "size": 20, "opacity": 1},
   "encoding": {
    "x": {"field": "fc", "type": "quantitative", "scale": {"domain": [-6, 6], "nice": false, "zero": false},
     "axis": {"orient": "bottom", "values": [-6, -4, -2, 0, 2, 4, 6], "grid": false, "domainColor": "#000", "domainWidth": 2, "tickColor": "#000", "tickWidth": 2, "tickSize": 7, "labelFlush": false, "labelFont": "Liberation Sans", "labelFontWeight": "bold", "labelFontSize": 14, "labelColor": "#000", "labelPadding": 3, "labelExpr": "toString(datum.value)", "title": "log₂(Fold Change mThy-Treg/CD25ⁿᵉᵍ Thy-Teff)", "titleFont": "Lato", "titleFontSize": 16.5, "titleFontWeight": "normal", "titleColor": "#333", "titleX": 172, "titleY": 53, "titleAlign": "center", "titleBaseline": "alphabetic"}},
    "y": {"field": "p", "type": "quantitative", "scale": {"domain": [-0.59, 6], "nice": false, "zero": false},
     "axis": {"orient": "right", "offset": -172, "values": [2, 4, 6], "format": "d", "grid": false, "domain": false, "tickColor": "#000", "tickWidth": 2, "tickSize": 8, "labelFont": "Liberation Sans", "labelFontWeight": "bold", "labelFontSize": 14, "labelColor": "#000", "labelPadding": 3, "title": "-log₁₀(p-value)", "titleAngle": 0, "titleX": 0, "titleY": -30, "titleAlign": "center", "titleBaseline": "alphabetic", "titleFont": "Lato", "titleFontSize": 16.5, "titleFontWeight": "normal", "titleColor": "#333"}},
    "color": {"field": "g", "type": "nominal", "scale": {"domain": ["ns", "down", "up"], "range": ["#d4d4d4", "#333333", "#0a14e6"]}, "legend": null}}},
  {"transform": [{"filter": "datum.s === 'r'"}], "mark": {"type": "text", "align": "left", "baseline": "middle", "dx": 6, "dy": 0, "font": "Lato", "fontStyle": "italic", "fontSize": 12.5, "color": "#222"},
   "encoding": {"x": {"field": "fc", "type": "quantitative", "scale": {"domain": [-6, 6], "nice": false, "zero": false}, "axis": null}, "y": {"field": "p", "type": "quantitative", "scale": {"domain": [-0.59, 6], "nice": false, "zero": false}, "axis": null}, "text": {"field": "m"}}},
  {"transform": [{"filter": "datum.s === 'rd'"}], "mark": {"type": "text", "align": "left", "baseline": "middle", "dx": 6, "dy": 5, "font": "Lato", "fontStyle": "italic", "fontSize": 12.5, "color": "#222"},
   "encoding": {"x": {"field": "fc", "type": "quantitative", "scale": {"domain": [-6, 6], "nice": false, "zero": false}, "axis": null}, "y": {"field": "p", "type": "quantitative", "scale": {"domain": [-0.59, 6], "nice": false, "zero": false}, "axis": null}, "text": {"field": "m"}}},
  {"transform": [{"filter": "datum.s === 'l'"}], "mark": {"type": "text", "align": "right", "baseline": "middle", "dx": -6, "dy": 0, "font": "Lato", "fontStyle": "italic", "fontSize": 12.5, "color": "#222"},
   "encoding": {"x": {"field": "fc", "type": "quantitative", "scale": {"domain": [-6, 6], "nice": false, "zero": false}, "axis": null}, "y": {"field": "p", "type": "quantitative", "scale": {"domain": [-0.59, 6], "nice": false, "zero": false}, "axis": null}, "text": {"field": "m"}}}
 ]}
], "spacing": 65, "bounds": "flush", "resolve": {"scale": {"color": "independent"}}}
],
"spacing": 40,
"resolve": {"scale": {"color": "independent"}}
}
